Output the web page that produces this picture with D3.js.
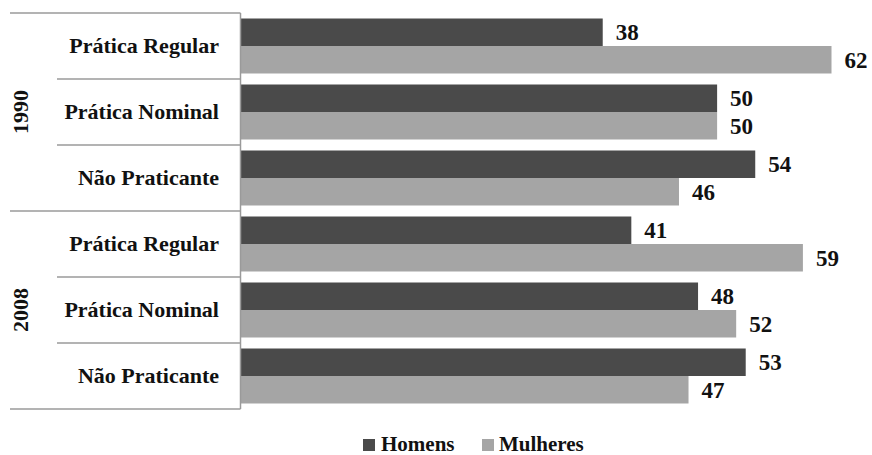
<!DOCTYPE html>
<html>
<head>
<meta charset="utf-8">
<script src="https://cdn.jsdelivr.net/npm/d3@7"></script>
<style>
  html, body { margin: 0; padding: 0; background: #fff; }
  text { font-family: 'Liberation Serif', 'Times New Roman', Tinos, serif; font-weight: 700; }
</style>
</head>
<body>
<svg id="chart" width="872" height="455"></svg>
<script>
const years = ["1990", "2008"];
const categories = ["Prática Regular", "Prática Nominal", "Não Praticante"];
const series = ["Homens", "Mulheres"];
const homens = [38, 50, 54, 41, 48, 53];
const mulheres = [62, 50, 46, 59, 52, 47];
const colors = ["#4a4a4a", "#a5a5a5"];

(function () {
const rows = [];
years.forEach((yr, gi) => categories.forEach((c, ci) => {
  const i = gi * categories.length + ci;
  rows.push({ key: yr + "|" + c, year: yr, cat: c, vals: [homens[i], mulheres[i]] });
}));

const svg = d3.select("#chart");
const axisX = 240.5, plotTop = 13, plotBottom = 409;

const x = d3.scaleLinear().domain([0, 62]).range([axisX, 831.5]);
const y = d3.scaleBand().domain(rows.map(r => r.key)).range([plotTop, plotBottom]);
const yInner = d3.scaleBand().domain(series).range([0, y.bandwidth()]).paddingOuter(0.2);

const lineColor = "#9a9a9a";

const g = svg.append("g");
rows.forEach(r => {
  series.forEach((s, si) => {
    const v = r.vals[si];
    const by = y(r.key) + yInner(s);
    g.append("rect")
      .attr("x", axisX)
      .attr("y", by)
      .attr("width", x(v) - axisX)
      .attr("height", yInner.bandwidth())
      .attr("fill", colors[si]);
    g.append("text")
      .attr("x", x(v) + 13)
      .attr("y", by + yInner.bandwidth() / 2 + 8)
      .style("font-size", "23px")
      .attr("fill", "#111")
      .text(v);
  });
});

rows.forEach((r) => {
  svg.append("text")
    .attr("x", 219)
    .attr("y", y(r.key) + y.bandwidth() / 2 + 7)
    .attr("text-anchor", "end")
    .style("font-size", "22px")
    .attr("fill", "#111")
    .text(r.cat);
});

const nCat = categories.length;
rows.forEach((r, i) => {
  if (i === 0) return;
  const yy = y(r.key);
  const startX = (i % nCat === 0) ? 10 : 57;
  svg.append("line").attr("x1", startX).attr("x2", axisX).attr("y1", yy).attr("y2", yy)
    .attr("stroke", lineColor).attr("stroke-width", 1.5);
});
[plotTop, plotBottom].forEach(yy => {
  svg.append("line").attr("x1", 10).attr("x2", axisX).attr("y1", yy).attr("y2", yy)
    .attr("stroke", lineColor).attr("stroke-width", 1.5);
});
svg.append("line").attr("x1", axisX).attr("x2", axisX).attr("y1", plotTop).attr("y2", plotBottom)
  .attr("stroke", lineColor).attr("stroke-width", 1.5);

years.forEach((yr) => {
  const y0 = y(yr + "|" + categories[0]);
  const y1 = y(yr + "|" + categories[nCat - 1]) + y.bandwidth();
  const cy = (y0 + y1) / 2;
  svg.append("text")
    .attr("transform", `translate(28,${cy}) rotate(-90)`)
    .attr("text-anchor", "middle")
    .style("font-size", "22px")
    .attr("fill", "#111")
    .text(yr);
});

const legendItems = [{ x: 363, tx: 381 }, { x: 482, tx: 499 }];
series.forEach((s, si) => {
  const li = legendItems[si];
  svg.append("rect").attr("x", li.x).attr("y", 439).attr("width", 12).attr("height", 12).attr("fill", colors[si]);
  svg.append("text").attr("x", li.tx).attr("y", 451)
    .style("font-size", "21px").attr("fill", "#111").text(s);
});
})();
</script>
</body>
</html>
